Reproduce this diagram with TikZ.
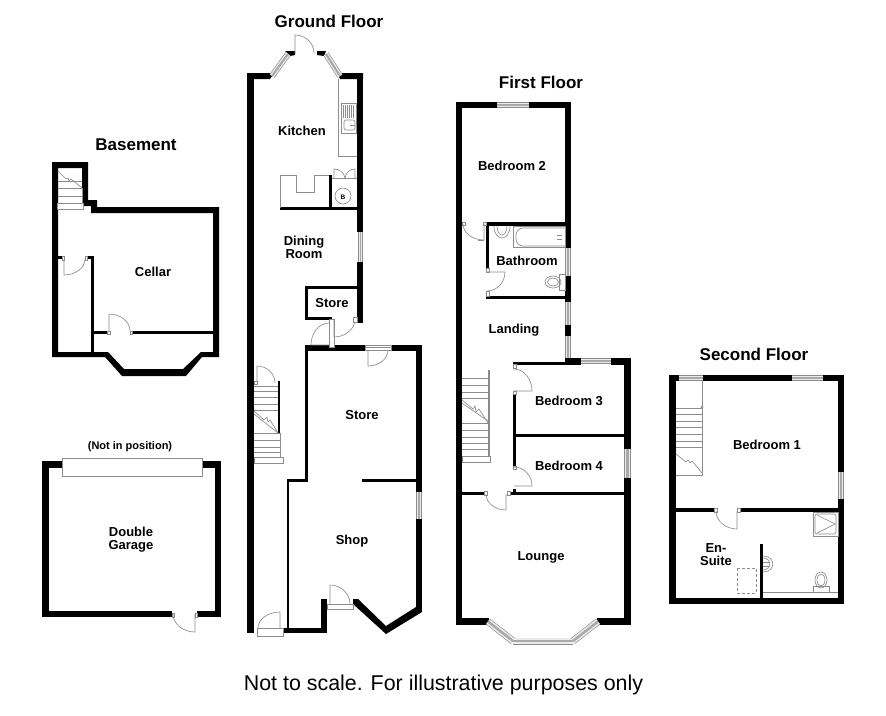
\documentclass[tikz,border=0pt]{standalone}
\usepackage{fontspec}
\setmainfont{Liberation Sans}
\usetikzlibrary{calc}
\definecolor{fineline}{gray}{0.55}
\tikzset{
  wall/.style={fill=black,draw=none},
  fine/.style={draw=fineline,line width=0.65pt},
  framebox/.style={draw=fineline,fill=white,line width=0.65pt},
  room/.style={font=\fontsize{13}{13}\selectfont\bfseries,align=center,inner sep=0pt},
  floortitle/.style={font=\fontsize{17}{20}\selectfont\bfseries,inner sep=0pt},
}
\newcommand{\swing}[3]{\draw[fine] #1 -- #2 .. controls ($#2+0.55*#3-0.55*#1$) and ($#3+0.55*#2-0.55*#1$) .. #3;}
\newcommand{\winseg}[3]{%
  \draw[draw=fineline,line width=#3pt] #1 -- #2;
  \draw[draw=black!8,line width=#3pt-1.3pt] #1 -- #2;
  \draw[draw=fineline!75,line width=#3pt*0.35] #1 -- #2;}
\begin{document}
\begin{tikzpicture}[x=1pt,y=-1pt]
\useasboundingbox (0,0) rectangle (886,715);
\fill[white] (0,0) rectangle (886,715);

% ---------- Basement ----------
\fill[wall,even odd rule] (52,162) -- (88,162) -- (88,200) -- (97,200) -- (97,207) -- (219,207) -- (219,357) -- (202,357) -- (186,376) -- (122,376) -- (105,357) -- (52,357) -- cycle
  (58,168) -- (82,168) -- (82,206) -- (91,206) -- (91,213) -- (213,213) -- (213,352) -- (201,352) -- (183,369) -- (124,369) -- (108,352) -- (58,352) -- cycle;
\fill[wall] (91,256) rectangle (94,352);
\fill[wall] (87,256) rectangle (94,259);
\fill[wall] (58,256) rectangle (62,259);
\fill[wall] (94,331) rectangle (107,334);
\fill[wall] (132,331) rectangle (213,334);
\draw[framebox] (57,203) rectangle (83,209);
\draw[fine] (58,181) -- (82,181) (58,188) -- (82,188) (58,196) -- (82,196);
\draw[fine] (82,188) -- (82,203);
\draw[fine] (58,171) -- (66,179) -- (68,178) -- (69,181) -- (71,179) -- (82,188);
\draw[framebox] (62,256) rectangle (64,260);
\draw[framebox] (85,256) rectangle (87,260);
\swing{(64,259)}{(64,275)}{(85,259)}
\draw[framebox] (107,331) rectangle (110,334);
\draw[framebox] (130,331) rectangle (132,334);
\swing{(109,331)}{(109,314)}{(130,331)}
\node[room] (cellar) at (153,272) {Cellar};
\node[floortitle] (basement) at (136,145) {Basement};

% ---------- Double Garage ----------
\fill[wall] (42,461) rectangle (62,468);
\fill[wall] (202,461) rectangle (221,468);
\fill[wall] (42,461) rectangle (49,617);
\fill[wall] (215,461) rectangle (221,617);
\fill[wall] (42,611) rectangle (172,617);
\fill[wall] (197,611) rectangle (221,617);
\draw[framebox] (62,458) rectangle (202,476);
\draw[framebox] (172,613) rectangle (174,617);
\draw[framebox] (195,613) rectangle (197,617);
\swing{(195,614)}{(195,632)}{(173,614)}
\node[room,font=\fontsize{11}{13}\selectfont\bfseries] (notpos) at (130,447) {(Not in position)};
\node[room] (garage) at (131,539.5) {Double\\Garage};

% ---------- Ground Floor ----------
\fill[wall] (247,73) rectangle (254,633);
\fill[wall] (247,73) -- (274,73) -- (270,79) -- (247,79) -- cycle;
\fill[wall] (337,73) -- (363,73) -- (363,79) -- (340,79) -- cycle;
\fill[wall] (285,51) -- (295,51) -- (295,55) -- (290,56) -- cycle;
\fill[wall] (317,51) -- (326,51) -- (324,56) -- (317,55) -- cycle;
\fill[wall] (357,73) rectangle (363,232);
\fill[wall] (357,262) rectangle (363,323);
\fill[wall] (305,286) rectangle (357,288.5);
\fill[wall] (305,286) rectangle (308,320);
\fill[wall] (305,317) rectangle (332,320);
\fill[wall] (329,175) rectangle (332,208);
\fill[wall] (280,207) rectangle (357,210);
\fill[wall] (278,381) rectangle (280,433);
\fill[wall] (305,345) rectangle (365,351);
\fill[wall] (305,345) rectangle (308,482);
\fill[wall] (391,345) rectangle (422,351);
\fill[wall] (416,345) rectangle (422,492);
\fill[wall] (416,519) rectangle (422,612);
\fill[wall] (362,479) rectangle (416,482);
\fill[wall] (287,479) rectangle (308,482);
\fill[wall] (287,479) rectangle (289,633);
\fill[wall] (283,628) rectangle (327,633);
\fill[wall] (321,599) rectangle (327,633);
\fill[wall] (353,599) -- (358,599) -- (386,626) -- (416,607) -- (422,612) -- (386,634) -- (353,604) -- cycle;
% bay and back door
\winseg{(272,76)}{(288,54)}{6}
\winseg{(326,54)}{(340,76)}{6}
\swing{(295,53)}{(295,35)}{(314,53)}
% kitchen fittings
\draw[fine] (338,79) -- (338,156) -- (357,156);
\draw[fine] (341,103) rectangle (356,133);
\foreach \lx in {343,345,347,349,351,353} {\draw[fine] (\lx,105) -- (\lx,118);}
\draw[fine,rounded corners=2pt] (344,120) rectangle (355,130);
\draw[fine] (350,125) -- (355,125);
\draw[fine] (280,208) -- (280,175) -- (296,175) -- (296,192) -- (314,192) -- (314,175) -- (329,175);
\draw[fine] (343,196) circle (8);
\node[inner sep=0pt,font=\fontsize{6.5}{8}\selectfont\bfseries] (boiler) at (343,197) {B};
\draw[fine] (334,178) -- (334,169) .. controls (339,169) and (344,172) .. (345,178);
\draw[fine] (355,178) -- (355,169) .. controls (350,169) and (346,172) .. (345,178);
\draw[fine] (332,178) -- (357,178);
% right-hand windows, doors
\winseg{(360.5,232)}{(360.5,262)}{5}
\draw[framebox] (329,319) rectangle (334,347);
\swing{(334,319)}{(334,337)}{(355,319)}
\draw[framebox] (353,317) rectangle (357,322);
\swing{(329,345)}{(311,345)}{(329,323)}
\draw[framebox] (365,345) rectangle (391,350);
\swing{(368,350)}{(368,366)}{(388,350)}
\draw[fine] (366,347) -- (391,347);
% shop
\winseg{(419,492)}{(419,519)}{6}
\draw[framebox] (327,604) rectangle (353,609);
\swing{(330,604)}{(330,585)}{(350,604)}
\draw[framebox] (257,628) rectangle (283,636);
\swing{(280,628)}{(280,612)}{(258,628)}
% ground stairs
\swing{(257,383)}{(257,366)}{(275,383)}
\draw[framebox] (254,381) rectangle (257,384);
\draw[fine] (254,386) -- (278,386) (254,391) -- (278,391) (254,397) -- (278,397) (254,404) -- (278,404) (254,410) -- (278,410);
\draw[fine] (254,411) -- (264,420) -- (267,417) -- (268,422) -- (270,420) -- (278,433);
\draw[fine] (254,414) -- (278,433);
\draw[fine] (280,433) -- (280,457);
\draw[fine] (254,433) -- (280,433) (254,440) -- (280,440) (254,447) -- (280,447) (254,452) -- (280,452);
\draw[fine] (254,457) rectangle (283,463);
\node[room] (kitchen) at (302,131) {Kitchen};
\node[room] (dining) at (304,247) {Dining\\Room};
\node[room] (storea) at (332,303.5) {Store};
\node[room] (storeb) at (362,415) {Store};
\node[room] (shop) at (352,541) {Shop};
\node[floortitle] (ground) at (329,21) {Ground Floor};

% ---------- First Floor ----------
\fill[wall] (456,102) rectangle (462,625);
\fill[wall] (456,102) rectangle (497,108);
\fill[wall] (529,102) rectangle (571,108);
\fill[wall] (565,102) rectangle (571,248);
\fill[wall] (486,222) rectangle (565,226);
\fill[wall] (486,222) rectangle (489,268);
\fill[wall] (486,296) rectangle (565,299);
\fill[wall] (565,275) rectangle (571,302);
\fill[wall] (565,325) rectangle (571,336);
\fill[wall] (513,362) rectangle (565,364.5);
\fill[wall] (565,358) rectangle (581,364.5);
\fill[wall] (611,358) rectangle (631,364.5);
\fill[wall] (624,358) rectangle (631,449);
\fill[wall] (624,478) rectangle (631,625);
\fill[wall] (513,362) rectangle (516,366);
\fill[wall] (513,393) rectangle (516,467);
\fill[wall] (516,434) rectangle (624,437);
\fill[wall] (462,492) rectangle (484,494.5);
\fill[wall] (509,492) rectangle (624,494.5);
\fill[wall] (513,489) rectangle (516,492);
\fill[wall] (456,618) rectangle (489,625);
\fill[wall] (597,618) rectangle (631,625);
\winseg{(497,105)}{(529,105)}{6}
\winseg{(568,248)}{(568,276)}{6}
\winseg{(568,302)}{(568,325)}{6}
\winseg{(568,336)}{(568,358)}{6}
\winseg{(581,361)}{(611,361)}{6}
\winseg{(627.5,449)}{(627.5,478)}{7}
\winseg{(488,621.5)}{(513,641)}{7}
\winseg{(513,641)}{(573,641)}{7}
\winseg{(573,641)}{(598,621.5)}{7}
% bedroom 2 door
\draw[framebox] (462,222) rectangle (465,225);
\draw[framebox] (483,222) rectangle (486,225);
\swing{(484,224)}{(484,240)}{(463,224)}
\draw[fine] (478,240) -- (484,240);
% bathroom
\draw[framebox] (486,268) rectangle (489,272);
\draw[framebox] (486,291) rectangle (489,296);
\swing{(487,272)}{(505,272)}{(487,291)}
\draw[fine] (513,226) rectangle (565,247);
\draw[fine,rounded corners=7pt] (565,228) -- (516,228) -- (516,246) -- (565,246);
\draw[fine] (557,235) -- (562,235) (557,239) -- (562,239);
\draw[fine] (494,226) .. controls (494,242) and (510,242) .. (510,226);
\draw[fine] (497,226) .. controls (497,238) and (507,238) .. (507,226);
\fill[fineline] (502,232) circle (0.7);
\draw[fine] (553,282) ellipse (8 and 6);
\draw[fine] (553,282) ellipse (5.5 and 4);
\draw[fine] (559,274) rectangle (565,290);
% bedroom 3/4 and lounge doors
\draw[framebox] (513,364) rectangle (516,368);
\swing{(514,391)}{(532,391)}{(514,369)}
\draw[framebox] (513,391) rectangle (516,394);
\draw[framebox] (513,466) rectangle (516,469);
\swing{(514,486)}{(532,486)}{(514,467)}
\draw[framebox] (484,491) rectangle (487,495);
\draw[framebox] (507,491) rectangle (510,495);
\swing{(506,494)}{(506,510)}{(486,494)}
% first floor stairs
\draw[fine] (488,370) -- (488,457) (489.5,370) -- (489.5,457) (488,370) -- (489.5,370);
\draw[fine] (462,378) -- (488,378) (462,385) -- (488,385) (462,392) -- (488,392) (462,398) -- (488,398);
\draw[fine] (462,400) -- (473,409) -- (475,406) -- (476,412) -- (479,409) -- (488,423);
\draw[fine] (462,403) -- (488,421);
\draw[fine] (462,423) -- (488,423) (462,430) -- (488,430) (462,437) -- (488,437) (462,443) -- (488,443) (462,449) -- (488,449) (462,456) -- (488,456);
\draw[framebox] (462,456) rectangle (490,462);
\node[room] (bed2) at (512,166) {Bedroom 2};
\node[room] (bath) at (527,260.5) {Bathroom};
\node[room] (landing) at (514,330) {Landing};
\node[room] (bed3) at (569,401) {Bedroom 3};
\node[room] (bed4) at (569,465.5) {Bedroom 4};
\node[room] (lounge) at (541,557) {Lounge};
\node[floortitle] (first) at (541,82) {First Floor};

% ---------- Second Floor ----------
\fill[wall] (669,375) rectangle (679,381);
\fill[wall] (703,375) rectangle (792,381);
\fill[wall] (823,375) rectangle (844,381);
\fill[wall] (669,375) rectangle (676,604);
\fill[wall] (838,375) rectangle (844,472);
\fill[wall] (838,499) rectangle (844,604);
\fill[wall] (669,598) rectangle (844,604);
\fill[wall] (676,508) rectangle (714,512);
\fill[wall] (740,508) rectangle (838,512);
\fill[wall] (760,544) rectangle (763,598);
\winseg{(679,378)}{(703,378)}{6}
\winseg{(792,378)}{(823,378)}{6}
\winseg{(841,472)}{(841,499)}{6}
\draw[framebox] (714,508) rectangle (717,512);
\draw[framebox] (737,508) rectangle (740,512);
\swing{(737,511)}{(737,529)}{(716,511)}
\draw[fine] (702,381) -- (702,475) -- (676,475);
\draw[framebox] (702,407) circle (1.2);
\draw[fine] (676,408) -- (702,408) (676,414) -- (702,414) (676,421) -- (702,421) (676,427) -- (702,427) (676,434) -- (702,434) (676,441) -- (702,441) (676,447) -- (702,447);
\draw[fine] (676,454) -- (686,462) -- (688,460) -- (690,463) -- (692,461) -- (702,473);
\draw[fine] (813,512) rectangle (838,536);
\draw[fine,rounded corners=2pt] (815,514) rectangle (836,534);
\draw[fine] (817,515) -- (835,524) -- (817,533);
\draw[fine] (763,556) .. controls (776,556) and (776,572) .. (763,572);
\draw[fine] (763,558) .. controls (772,558) and (772,570) .. (763,570);
\draw[fine] (763,562) -- (769,562) (763,566) -- (769,566);
\draw[fine,densely dashed] (737,568) rectangle (756,593);
\draw[fine] (763,592) -- (838,592);
\draw[fine] (821,580) ellipse (6 and 8);
\draw[fine] (821,580) ellipse (4 and 6);
\draw[fine] (813,592) -- (813,586) -- (829,586) -- (829,592);
\node[room] (bed1) at (767,444.5) {Bedroom 1};
\node[room] (ensuite) at (716,555) {En-\\Suite};
\node[floortitle] (second) at (754,354) {Second Floor};

% ---------- Footer ----------
\node[inner sep=0pt,font=\fontsize{21.4}{25}\selectfont] (note) at (443.5,685) {Not to scale. For illustrative purposes only};
\end{tikzpicture}
\end{document}
